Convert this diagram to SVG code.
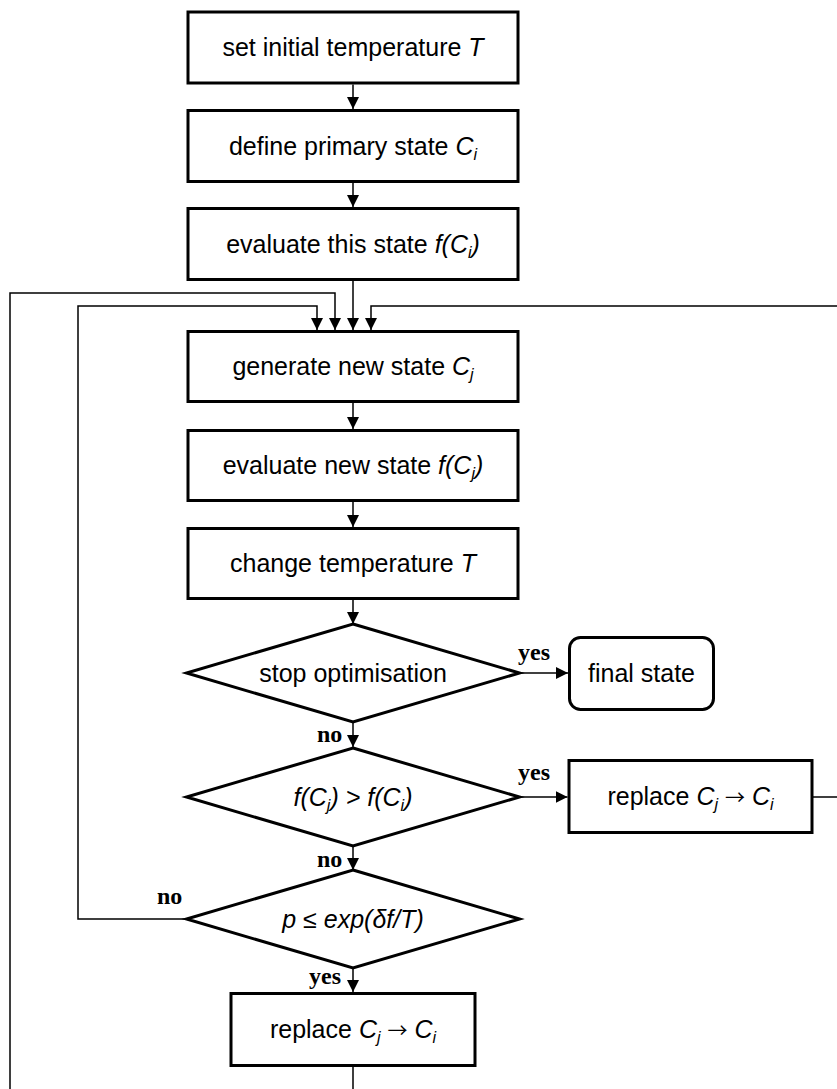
<svg xmlns="http://www.w3.org/2000/svg" width="837" height="1089" viewBox="0 0 837 1089">
<defs>
<style>
.box{fill:#fff;stroke:#000;stroke-width:3}
.t{font-family:"Liberation Sans",Arial,sans-serif;font-size:25px;fill:#000;text-anchor:middle}
.i{font-style:italic}
.s{font-size:16px;font-style:italic}
.ar{font-family:"Noto Sans CJK JP",sans-serif;font-size:20px;font-style:normal}
.lbl{font-family:"Liberation Serif","Times New Roman",serif;font-size:24px;font-weight:bold;fill:#000}
.c{fill:none;stroke:#000;stroke-width:1.5}
</style>
<marker id="ah" markerUnits="userSpaceOnUse" markerWidth="12" markerHeight="12" refX="12" refY="6" orient="auto" viewBox="0 0 12 12">
<path d="M0,0 L12,6 L0,12 z" fill="#000"/>
</marker>
</defs>
<rect width="837" height="1089" fill="#fff"/>
<g id="connectors">
<line class="c" x1="353" y1="84.5" x2="353" y2="109" marker-end="url(#ah)"/>
<line class="c" x1="353" y1="183" x2="353" y2="207" marker-end="url(#ah)"/>
<line class="c" x1="353" y1="281" x2="353" y2="330" marker-end="url(#ah)"/>
<line class="c" x1="353" y1="403" x2="353" y2="429" marker-end="url(#ah)"/>
<line class="c" x1="353" y1="502" x2="353" y2="527" marker-end="url(#ah)"/>
<line class="c" x1="353" y1="600" x2="353" y2="624" marker-end="url(#ah)"/>
<line class="c" x1="353" y1="722" x2="353" y2="747" marker-end="url(#ah)"/>
<line class="c" x1="353" y1="846" x2="353" y2="870" marker-end="url(#ah)"/>
<line class="c" x1="353" y1="968" x2="353" y2="992" marker-end="url(#ah)"/>
<line class="c" x1="519.5" y1="673" x2="568" y2="673" marker-end="url(#ah)"/>
<line class="c" x1="519.5" y1="797" x2="567.5" y2="797" marker-end="url(#ah)"/>
<path class="c" d="M813,797 H845 V306 H371 V330" marker-end="url(#ah)"/>
<path class="c" d="M186.5,919 H78 V306 H317 V330" marker-end="url(#ah)"/>
<path class="c" d="M353,1067 V1100 H10 V293 H335 V330" marker-end="url(#ah)"/>
<text class="lbl" x="518" y="660">yes</text>
<text class="lbl" x="317" y="742">no</text>
<text class="lbl" x="518" y="780">yes</text>
<text class="lbl" x="317" y="867">no</text>
<text class="lbl" x="157" y="904">no</text>
<text class="lbl" x="309" y="984">yes</text>
</g>
<g id="n1"><rect class="box" x="188" y="12" width="330" height="71"/><text class="t" x="353" y="56">set initial temperature <tspan class="i">T</tspan></text></g>
<g id="n2"><rect class="box" x="188" y="110.5" width="330" height="71"/><text class="t" x="353" y="155">define primary state <tspan class="i">C</tspan><tspan class="s" dy="5">i</tspan></text></g>
<g id="n3"><rect class="box" x="188" y="208.5" width="330" height="71"/><text class="t" x="353" y="253">evaluate this state <tspan class="i">f(C</tspan><tspan class="s" dy="5">i</tspan><tspan class="i" dy="-5">)</tspan></text></g>
<g id="n4"><rect class="box" x="188" y="331.5" width="330" height="70"/><text class="t" x="353" y="375">generate new state <tspan class="i">C</tspan><tspan class="s" dy="5">j</tspan></text></g>
<g id="n5"><rect class="box" x="188" y="430.5" width="330" height="70"/><text class="t" x="353" y="474">evaluate new state <tspan class="i">f(C</tspan><tspan class="s" dy="5">j</tspan><tspan class="i" dy="-5">)</tspan></text></g>
<g id="n6"><rect class="box" x="188" y="528.5" width="330" height="70"/><text class="t" x="353" y="572">change temperature <tspan class="i">T</tspan></text></g>
<g id="d1"><polygon class="box" points="353,624 519.5,673 353,722 186.5,673"/><text class="t" x="353" y="682">stop optimisation</text></g>
<g id="final"><rect class="box" x="569.5" y="637.5" width="144" height="72" rx="11"/><text class="t" x="641.5" y="682">final state</text></g>
<g id="d2"><polygon class="box" points="353,748 519.5,797 353,846 186.5,797"/><text class="t i" x="353" y="806">f(C<tspan class="s" dy="5">j</tspan><tspan dy="-5">) &gt; f(C</tspan><tspan class="s" dy="5">i</tspan><tspan dy="-5">)</tspan></text></g>
<g id="r1"><rect class="box" x="569" y="760.5" width="243" height="72"/><text class="t" x="690.5" y="805">replace <tspan class="i">C</tspan><tspan class="s" dy="5">j</tspan><tspan dy="-5"> </tspan><tspan class="ar">→</tspan><tspan> </tspan><tspan class="i">C</tspan><tspan class="s" dy="5">i</tspan></text></g>
<g id="d3"><polygon class="box" points="353,870 519.5,919 353,968 186.5,919"/><text class="t i" x="353" y="928">p ≤ exp(δf/T)</text></g>
<g id="r2"><rect class="box" x="231" y="993.5" width="244" height="72"/><text class="t" x="353" y="1038">replace <tspan class="i">C</tspan><tspan class="s" dy="5">j</tspan><tspan dy="-5"> </tspan><tspan class="ar">→</tspan><tspan> </tspan><tspan class="i">C</tspan><tspan class="s" dy="5">i</tspan></text></g>
</svg>
